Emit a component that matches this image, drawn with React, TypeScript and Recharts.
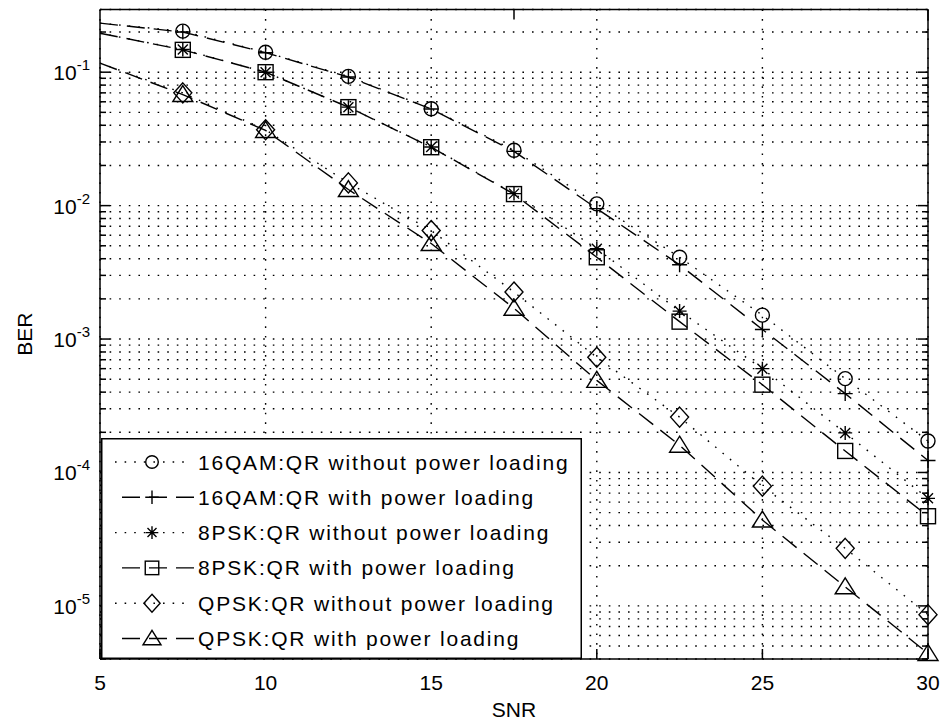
import React from 'react';
import { ComposedChart, Line, XAxis, YAxis, CartesianGrid, Legend, Label } from 'recharts';

const FONT = '"Liberation Sans", Arial, Helvetica, sans-serif';

// ---------- data ----------
const snr = [5, 7.5, 10, 12.5, 15, 17.5, 20, 22.5, 25, 27.5, 30];
const qam16Without = [0.233, 0.203, 0.141, 0.093, 0.0532, 0.026, 0.0103, 0.0041, 0.00151, 0.000505, 0.000172];
const qam16With = [0.233, 0.2, 0.14, 0.092, 0.053, 0.0255, 0.0095, 0.0036, 0.00118, 0.00039, 0.000123];
const psk8Without = [0.196, 0.148, 0.1, 0.0547, 0.0275, 0.0123, 0.00475, 0.00162, 0.0006, 0.000198, 0.000064];
const psk8With = [0.196, 0.147, 0.1, 0.0547, 0.0274, 0.0122, 0.0041, 0.00135, 0.000455, 0.000145, 0.000047];
const qpskWithout = [0.117, 0.07, 0.037, 0.0148, 0.0065, 0.00225, 0.00073, 0.00026, 0.000079, 0.000027, 0.0000086];
const qpskWith = [0.117, 0.068, 0.0366, 0.0132, 0.0052, 0.0017, 0.00049, 0.00016, 0.000044, 0.0000139, 0.0000044];

const seriesKeys = ['qam16Without', 'qam16With', 'psk8Without', 'psk8With', 'qpskWithout', 'qpskWith'];
const seriesValues = [qam16Without, qam16With, psk8Without, psk8With, qpskWithout, qpskWith];
const seriesNames = [
  '16QAM:QR without power loading',
  '16QAM:QR with power loading',
  '8PSK:QR without power loading',
  '8PSK:QR with power loading',
  'QPSK:QR without power loading',
  'QPSK:QR with power loading',
];
const seriesMarkers = ['circle', 'plus', 'star', 'square', 'diamond', 'triangle'];
const seriesLineStyles = ['dotted', 'dashed', 'dotted', 'dashed', 'dotted', 'dashed'];

const xTicks = [5, 10, 15, 20, 25, 30];
const xDomain = [5, 30];
const yTicks = [
  4e-6, 5e-6, 6e-6, 7e-6, 8e-6, 9e-6,
  1e-5, 2e-5, 3e-5, 4e-5, 5e-5, 6e-5, 7e-5, 8e-5, 9e-5,
  1e-4, 2e-4, 3e-4, 4e-4, 5e-4, 6e-4, 7e-4, 8e-4, 9e-4,
  1e-3, 2e-3, 3e-3, 4e-3, 5e-3, 6e-3, 7e-3, 8e-3, 9e-3,
  1e-2, 2e-2, 3e-2, 4e-2, 5e-2, 6e-2, 7e-2, 8e-2, 9e-2,
  0.1, 0.2,
];
const yDomain = [4e-6, 0.295];
const xTitle = 'SNR';
const yTitle = 'BER';

const data = snr.map((s, i) => {
  const row: any = { snr: s };
  seriesKeys.forEach((k, j) => {
    row[k] = seriesValues[j][i];
  });
  return row;
});

const DOTTED = '1.6 8';
const DASHED = '18 9';
const LW = 1.4;

function Marker({ type, cx, cy, s = 1 }: { type: string; cx: number; cy: number; s?: number }) {
  const st = { fill: 'none', stroke: '#000', strokeWidth: LW };
  switch (type) {
    case 'circle':
      return <circle cx={cx} cy={cy} r={7 * s} {...st} />;
    case 'plus':
      return <path d={`M${cx - 7.5 * s},${cy}H${cx + 7.5 * s}M${cx},${cy - 7.5 * s}V${cy + 7.5 * s}`} {...st} />;
    case 'star':
      return (
        <path
          d={`M${cx - 7 * s},${cy}H${cx + 7 * s}M${cx},${cy - 7 * s}V${cy + 7 * s}M${cx - 5 * s},${cy - 5 * s}L${cx + 5 * s},${cy + 5 * s}M${cx - 5 * s},${cy + 5 * s}L${cx + 5 * s},${cy - 5 * s}`}
          {...st}
        />
      );
    case 'square':
      return <rect x={cx - 7.5 * s} y={cy - 7.5 * s} width={15 * s} height={15 * s} {...st} />;
    case 'diamond':
      return <path d={`M${cx},${cy - 10 * s}L${cx + 9 * s},${cy}L${cx},${cy + 10 * s}L${cx - 9 * s},${cy}Z`} {...st} />;
    case 'triangle':
      return <path d={`M${cx},${cy - 9 * s}L${cx + 10 * s},${cy + 7 * s}L${cx - 10 * s},${cy + 7 * s}Z`} {...st} />;
    default:
      return null;
  }
}

const isMajor = (v: number) => {
  const l = Math.log10(v);
  return Math.abs(l - Math.round(l)) < 1e-6;
};

const LeftTick = (props: any) => {
  const { x, y, payload } = props;
  const v = payload.value;
  const major = isMajor(v);
  const e = Math.round(Math.log10(v));
  return (
    <g>
      <line x1={x} x2={x + (major ? 10 : 6)} y1={y} y2={y} stroke="#000" strokeWidth={1.5} />
      {major && (
        <text x={x - 10} y={y + 8} textAnchor="end" fontFamily={FONT} fontSize={21} fill="#000">
          10
          <tspan dy={-10} fontSize={15}>{String(e)}</tspan>
        </text>
      )}
    </g>
  );
};

const RightTick = (props: any) => {
  const { x, y, payload } = props;
  const major = isMajor(payload.value);
  return <line x1={x} x2={x - (major ? 10 : 6)} y1={y} y2={y} stroke="#000" strokeWidth={1.5} />;
};

const BottomTick = (props: any) => {
  const { x, y, payload } = props;
  return (
    <g>
      <line x1={x} x2={x} y1={y} y2={y - 10} stroke="#000" strokeWidth={1.5} />
      <text x={x} y={y + 31} textAnchor="middle" fontFamily={FONT} fontSize={21} fill="#000">
        {String(payload.value)}
      </text>
    </g>
  );
};

const TopTick = (props: any) => {
  const { x, y } = props;
  return <line x1={x} x2={x} y1={y} y2={y + 10} stroke="#000" strokeWidth={1.5} />;
};

const LEG_W = 481;
const LEG_H = 221;

const LegendBox = () => (
  <svg width={LEG_W} height={LEG_H} style={{ display: 'block' }}>
    <rect x={0.75} y={0.75} width={LEG_W - 1.5} height={LEG_H - 1.5} fill="#fff" stroke="#000" strokeWidth={1.5} />
    {seriesNames.map((name, i) => {
      const cy = 24 + 35.3 * i;
      const dotted = seriesLineStyles[i] === 'dotted';
      return (
        <g key={name}>
          <line
            x1={dotted ? 14 : 21}
            x2={dotted ? 90 : 93}
            y1={cy}
            y2={cy}
            stroke="#000"
            strokeWidth={LW}
            strokeDasharray={dotted ? DOTTED : DASHED}
          />
          <Marker type={seriesMarkers[i]} cx={51} cy={cy} s={0.9} />
          <text x={97} y={cy + 7.5} fontFamily={FONT} fontSize={21} letterSpacing={1.8} fill="#000">
            {name}
          </text>
        </g>
      );
    })}
  </svg>
);

export default function App() {
  return (
    <div style={{ position: 'absolute', left: 0, top: 0, background: '#fff' }}>
      <ComposedChart width={943} height={728} data={data} margin={{ top: 0, right: 0, bottom: 0, left: 0 }}>
        <CartesianGrid stroke="#000" strokeWidth={1.4} strokeDasharray={DOTTED} vertical horizontal />
        <XAxis
          dataKey="snr"
          type="number"
          domain={xDomain}
          ticks={xTicks}
          interval={0}
          height={69}
          tickSize={0}
          tickMargin={0}
          tick={<BottomTick />}
          tickLine={false}
          axisLine={{ stroke: '#000', strokeWidth: 1.5 }}
        >
          <Label
            content={(p: any) => {
              const vb = p.viewBox || {};
              return (
                <text x={vb.x + vb.width / 2} y={vb.y + 58} textAnchor="middle" fontFamily={FONT} fontSize={21} fill="#000">
                  {xTitle}
                </text>
              );
            }}
          />
        </XAxis>
        <XAxis
          xAxisId="top"
          orientation="top"
          type="number"
          domain={xDomain}
          ticks={xTicks}
          interval={0}
          height={9.5}
          tickSize={0}
          tickMargin={0}
          tick={<TopTick />}
          tickLine={false}
          allowDataOverflow
          axisLine={{ stroke: '#000', strokeWidth: 1.5 }}
        />
        <YAxis
          type="number"
          scale="log"
          domain={yDomain}
          ticks={yTicks}
          interval={0}
          width={100}
          tickSize={0}
          tickMargin={0}
          tick={<LeftTick />}
          tickLine={false}
          axisLine={{ stroke: '#000', strokeWidth: 1.5 }}
        >
          <Label
            content={(p: any) => {
              const vb = p.viewBox || {};
              const cy = vb.y + vb.height / 2;
              return (
                <text
                  transform={`translate(${vb.x + 31.5}, ${cy}) rotate(-90)`}
                  textAnchor="middle"
                  fontFamily={FONT}
                  fontSize={21}
                  fill="#000"
                >
                  {yTitle}
                </text>
              );
            }}
          />
        </YAxis>
        <YAxis
          yAxisId="right"
          orientation="right"
          type="number"
          scale="log"
          domain={yDomain}
          ticks={yTicks}
          interval={0}
          width={15}
          tickSize={0}
          tickMargin={0}
          tick={<RightTick />}
          tickLine={false}
          allowDataOverflow
          axisLine={{ stroke: '#000', strokeWidth: 1.5 }}
        />
        {seriesKeys.map((k, j) => (
          <Line
            key={k}
            dataKey={k}
            name={seriesNames[j]}
            type="linear"
            stroke="#000"
            strokeWidth={LW}
            strokeDasharray={seriesLineStyles[j] === 'dotted' ? DOTTED : DASHED}
            isAnimationActive={false}
            activeDot={false}
            legendType="none"
            dot={(p: any) =>
              p.index === 0 ? (
                <g key={`${k}-${p.index}`} />
              ) : (
                <g key={`${k}-${p.index}`}>
                  <Marker type={seriesMarkers[j]} cx={p.cx} cy={p.cy} />
                </g>
              )
            }
          />
        ))}
        <Legend
          layout="horizontal"
          verticalAlign="middle"
          align="center"
          wrapperStyle={{ position: 'absolute', left: 101, top: 438, width: LEG_W, height: LEG_H, margin: 0, padding: 0 }}
          content={() => <LegendBox />}
        />
      </ComposedChart>
    </div>
  );
}
